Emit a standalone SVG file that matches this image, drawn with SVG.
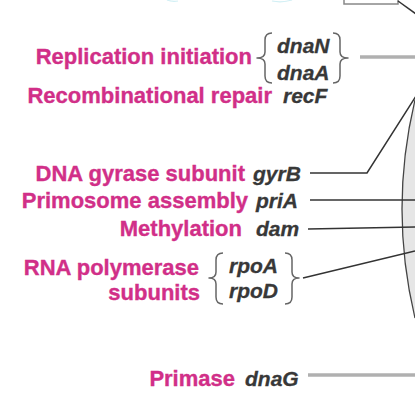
<svg xmlns="http://www.w3.org/2000/svg" width="415" height="412" viewBox="0 0 415 412">
<style>
.lab{font-family:"Liberation Sans",Arial,sans-serif;font-weight:bold;font-size:22px;fill:#d12f88;stroke:#d12f88;stroke-width:0.35;text-anchor:end}
.gene{font-family:"Liberation Sans",Arial,sans-serif;font-weight:bold;font-style:italic;font-size:21px;fill:#383838;stroke:#383838;stroke-width:0.3}
.ln{stroke:#333;stroke-width:1.5;fill:none}
.gl{stroke:#b0b0b0;stroke-width:3.5;fill:none}
.br{stroke:#666;stroke-width:1.5;fill:none;stroke-linejoin:round}
</style>
<rect width="415" height="412" fill="#fff"/>
<g id="chromosome">
<path d="M415 100 Q389 209 415 318 L420 318 L420 100 Z" fill="#e6e6e6"/>
<path d="M415 100 Q389 209 415 318" stroke="#444" stroke-width="1.3" fill="none"/>
</g>
<g id="topbox">
<rect x="344" y="-10" width="54" height="14" fill="#fff" stroke="#888" stroke-width="1.5"/>
<path d="M167 0 Q172 2 178 1 M272 1 Q282 3 292 0" stroke="#9adbe6" stroke-width="1.2" fill="none" opacity="0.45"/>
</g>
<g id="connectors">
<path class="ln" d="M398 1 L416 14"/>
<path class="gl" d="M360 57 L415 57"/>
<path class="ln" d="M418 93 L367 173 L310 173"/>
<path class="ln" d="M310 200 L415 200"/>
<path class="ln" d="M308 229 L415 227"/>
<path class="ln" d="M303 278 L415 251"/>
<path class="gl" d="M308 375 L415 375"/>
</g>
<g id="replication">
<text class="lab" x="252" y="64">Replication initiation</text>
<path class="br" d="M272 33 Q265 33 265 40 L265 52 Q265 58 257 58 Q265 58 265 64 L265 76 Q265 83 272 83"/>
<text class="gene" x="277" y="53" font-size="20">dnaN</text>
<text class="gene" x="277" y="80" font-size="20">dnaA</text>
<path class="br" d="M333 33 Q340 33 340 40 L340 52 Q340 58 348 58 Q340 58 340 64 L340 76 Q340 83 333 83"/>
</g>
<g id="recombination">
<text class="lab" x="272" y="103">Recombinational repair</text>
<text class="gene" x="283" y="103">recF</text>
</g>
<g id="gyrase">
<text class="lab" x="245" y="181">DNA gyrase subunit</text>
<text class="gene" x="253" y="181">gyrB</text>
</g>
<g id="primosome">
<text class="lab" x="248" y="208">Primosome assembly</text>
<text class="gene" x="256" y="208">priA</text>
</g>
<g id="methylation">
<text class="lab" x="242" y="236">Methylation</text>
<text class="gene" x="256" y="236">dam</text>
</g>
<g id="rnapol">
<text class="lab" x="199" y="275">RNA polymerase</text>
<text class="lab" x="200" y="300">subunits</text>
<path class="br" d="M223 253 Q216 253 216 260 L216 272 Q216 278 209 278 Q216 278 216 284 L216 297 Q216 304 223 304"/>
<text class="gene" x="229" y="273">rpoA</text>
<text class="gene" x="229" y="298">rpoD</text>
<path class="br" d="M285 253 Q292 253 292 260 L292 272 Q292 278 299 278 Q292 278 292 284 L292 297 Q292 304 285 304"/>
</g>
<g id="primase">
<text class="lab" x="235" y="386">Primase</text>
<text class="gene" x="245" y="386" font-style="normal">dnaG</text>
</g>
</svg>
